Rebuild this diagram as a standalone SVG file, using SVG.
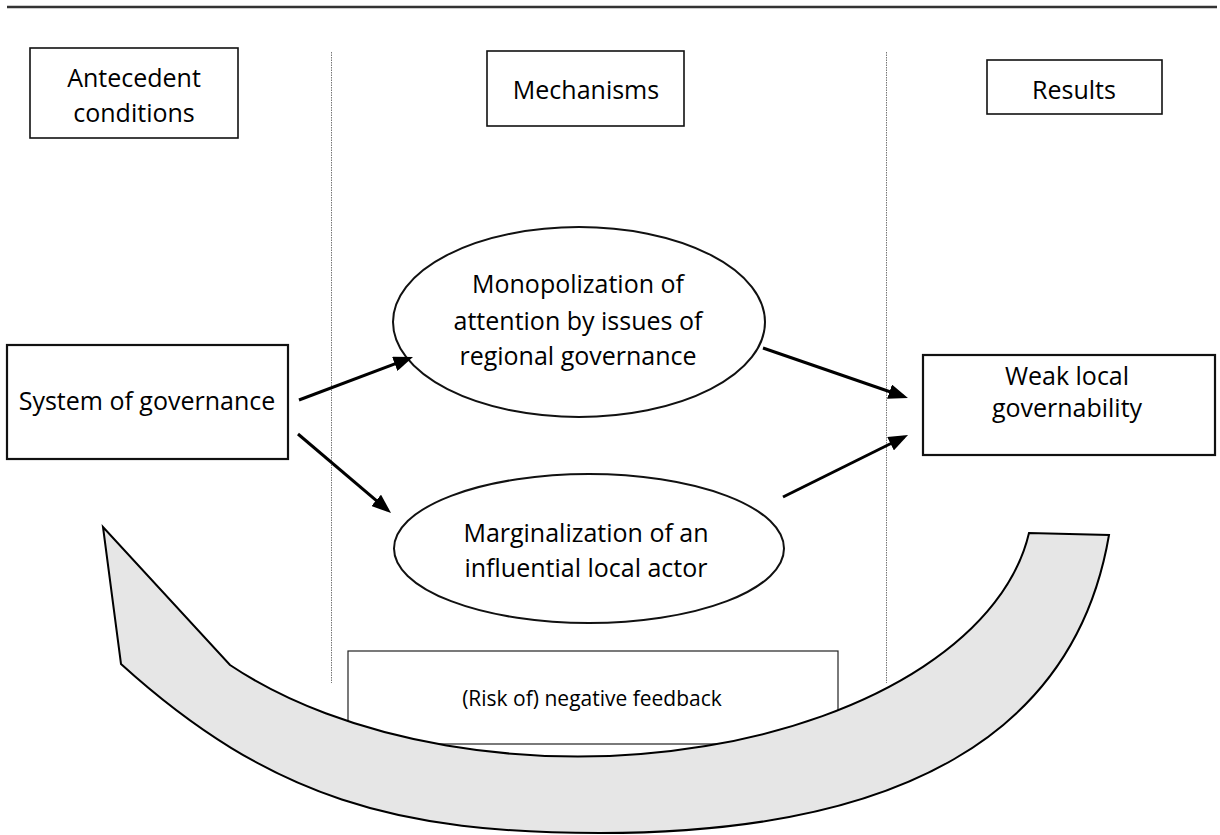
<svg xmlns="http://www.w3.org/2000/svg" width="1220" height="835" viewBox="0 0 1220 835">
<style>
.t{font-family:"Open Sans","Liberation Sans",Arial,sans-serif;font-size:25px;fill:#000;text-anchor:middle}
.s{font-size:21px}
.box{fill:#fff;stroke:#111;stroke-width:1.6}
.box2{fill:#fff;stroke:#111;stroke-width:2.2}
.ell{fill:#fff;stroke:#111;stroke-width:2}
.dot{stroke:#777;stroke-width:1;stroke-dasharray:1.5,1;fill:none}
.con{stroke:#000;stroke-width:3;fill:none;marker-end:url(#ah)}
</style>
<defs>
<marker id="ah" markerWidth="6.5" markerHeight="5" refX="5" refY="2.5" orient="auto" markerUnits="strokeWidth">
<path d="M0,0 L6.5,2.5 L0,5 z" fill="#000"/>
</marker>
</defs>
<rect width="1220" height="835" fill="#fff"/>
<line x1="7" y1="7" x2="1217" y2="7" stroke="#333" stroke-width="2.5"/>
<g id="dividers">
<line class="dot" x1="331.5" y1="52" x2="331.5" y2="683"/>
<line class="dot" x1="886.5" y1="52" x2="886.5" y2="683"/>
</g>
<g id="antecedent">
<rect class="box" x="30" y="48" width="208" height="90"/>
<text class="t" x="134" y="87">Antecedent</text>
<text class="t" x="134" y="122">conditions</text>
</g>
<g id="mechanisms">
<rect class="box" x="487" y="51" width="197" height="75"/>
<text class="t" x="586" y="99">Mechanisms</text>
</g>
<g id="results">
<rect class="box" x="987" y="60" width="175" height="54"/>
<text class="t" x="1074" y="99">Results</text>
</g>
<g id="system">
<rect class="box2" x="7" y="345" width="281" height="114"/>
<text class="t" x="147" y="410">System of governance</text>
</g>
<g id="monopolization">
<ellipse class="ell" cx="579" cy="322" rx="186" ry="95"/>
<text class="t" x="578" y="293">Monopolization of</text>
<text class="t" x="578" y="330">attention by issues of</text>
<text class="t" x="578" y="365">regional governance</text>
</g>
<g id="marginalization">
<ellipse class="ell" cx="589" cy="548.5" rx="195" ry="74.5"/>
<text class="t" x="586" y="542">Marginalization of an</text>
<text class="t" x="586" y="577">influential local actor</text>
</g>
<g id="weak">
<rect class="box2" x="923" y="355" width="292" height="100"/>
<text class="t" x="1067" y="385">Weak local</text>
<text class="t" x="1067" y="417">governability</text>
</g>
<g id="connectors">
<line class="con" x1="299" y1="400" x2="408.8" y2="358.6"/>
<line class="con" x1="298" y1="434" x2="387.6" y2="510.1"/>
<line class="con" x1="763" y1="348" x2="903.7" y2="396.5"/>
<line class="con" x1="783" y1="497" x2="904" y2="437"/>
</g>
<g id="feedback">
<rect x="348" y="651" width="490" height="93" fill="#fff" stroke="#222" stroke-width="1.2"/>
<text class="t s" x="592" y="706">(Risk of) negative feedback</text>
</g>
<g id="feedback-arrow">
<path d="M103,527 L121,664 C271,800 400,833 600,833 C900,833 1075,735 1109,535 L1029,533 A455 257 0 0 1 230,665 Z" fill="#e6e6e6" stroke="#000" stroke-width="2" stroke-linejoin="miter"/>
</g>
</svg>
